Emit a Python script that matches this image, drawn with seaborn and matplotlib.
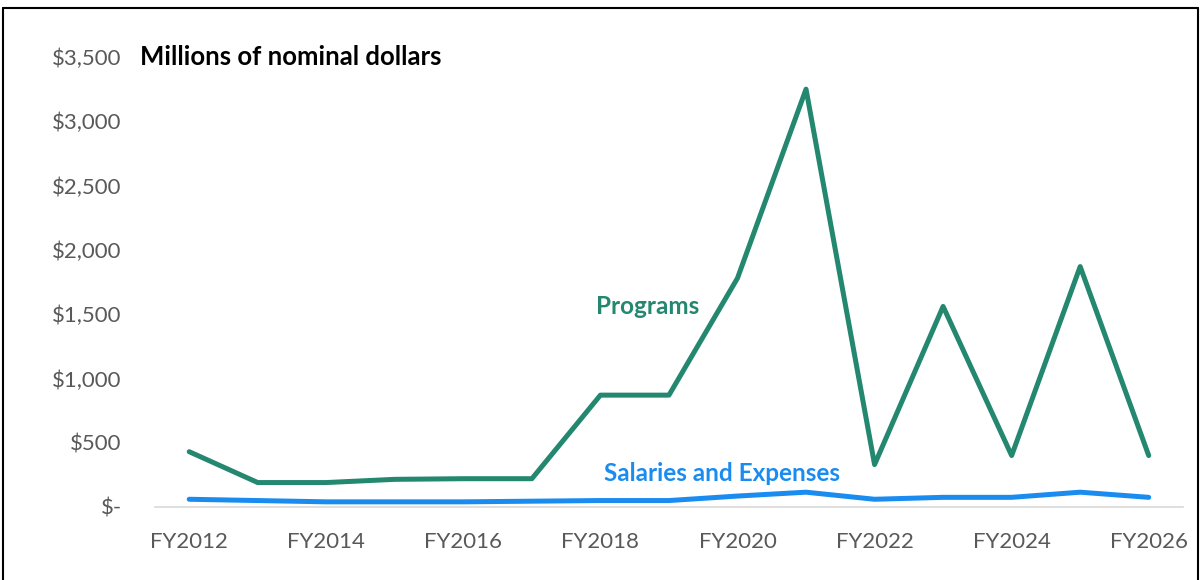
import pandas as pd
import seaborn as sns
import matplotlib.pyplot as plt
from matplotlib.lines import Line2D

years = list(range(2012, 2027))
programs = [430, 190, 190, 215, 220, 220, 870, 870, 1780, 3250, 330, 1560, 400, 1870, 400]
salaries = [60, 50, 40, 40, 40, 45, 50, 50, 85, 115, 60, 75, 75, 115, 75]
y_ticks = [0, 500, 1000, 1500, 2000, 2500, 3000, 3500]
y_tick_labels = ['$-', '$500', '$1,000', '$1,500', '$2,000', '$2,500', '$3,000', '$3,500']
x_ticks = list(range(2012, 2027, 2))
x_tick_labels = ['FY{}'.format(y) for y in x_ticks]

green = '#24876f'
blue = '#1a8cf0'
grey_text = '#595959'

df = pd.DataFrame({'year': years, 'Programs': programs, 'Salaries and Expenses': salaries})

sns.set_style('white')
plt.rcParams['font.family'] = ['Lato', 'DejaVu Sans']

fig = plt.figure(figsize=(12.01, 5.8), dpi=100)
ax = fig.add_axes([0.129, 0.1259, 0.856, 0.7758])

sns.lineplot(data=df, x='year', y='Programs', color=green, lw=3.6, ax=ax)
sns.lineplot(data=df, x='year', y='Salaries and Expenses', color=blue, lw=3.6, ax=ax)

ax.set_xlim(2011.5, 2026.5)
ax.set_ylim(0, 3500)
ax.set_xticks(x_ticks)
ax.set_xticklabels(x_tick_labels, fontsize=16, color=grey_text)
ax.set_yticks(y_ticks)
ax.set_yticklabels(y_tick_labels, fontsize=16, color=grey_text)
ax.tick_params(axis='both', length=0)
ax.tick_params(axis='x', pad=18)
ax.tick_params(axis='y', pad=24)
ax.set_xlabel('')
ax.set_ylabel('')

for side in ['top', 'right', 'left']:
    ax.spines[side].set_visible(False)
ax.spines['bottom'].set_color('#d9d9d9')
ax.spines['bottom'].set_linewidth(1.2)

ax.text(0.1165, 0.9017, 'Millions of nominal dollars', transform=fig.transFigure,
        fontsize=18.5, fontweight='bold', color='black', va='center', ha='left')
ax.text(2018.69, 1556, 'Programs', fontsize=17.5, fontweight='bold', color=green,
        ha='center', va='center')
ax.text(2019.77, 264, 'Salaries and Expenses', fontsize=17.5, fontweight='bold', color=blue,
        ha='center', va='center')

# outer frame of the chart area
fig.add_artist(Line2D([0.0025, 0.9975], [0.986, 0.986], transform=fig.transFigure, color='black', lw=1.5))
fig.add_artist(Line2D([0.0025, 0.0025], [0.0, 0.986], transform=fig.transFigure, color='black', lw=1.5))
fig.add_artist(Line2D([0.9975, 0.9975], [0.0, 0.986], transform=fig.transFigure, color='black', lw=1.5))

fig.savefig('out.png', dpi=100)
